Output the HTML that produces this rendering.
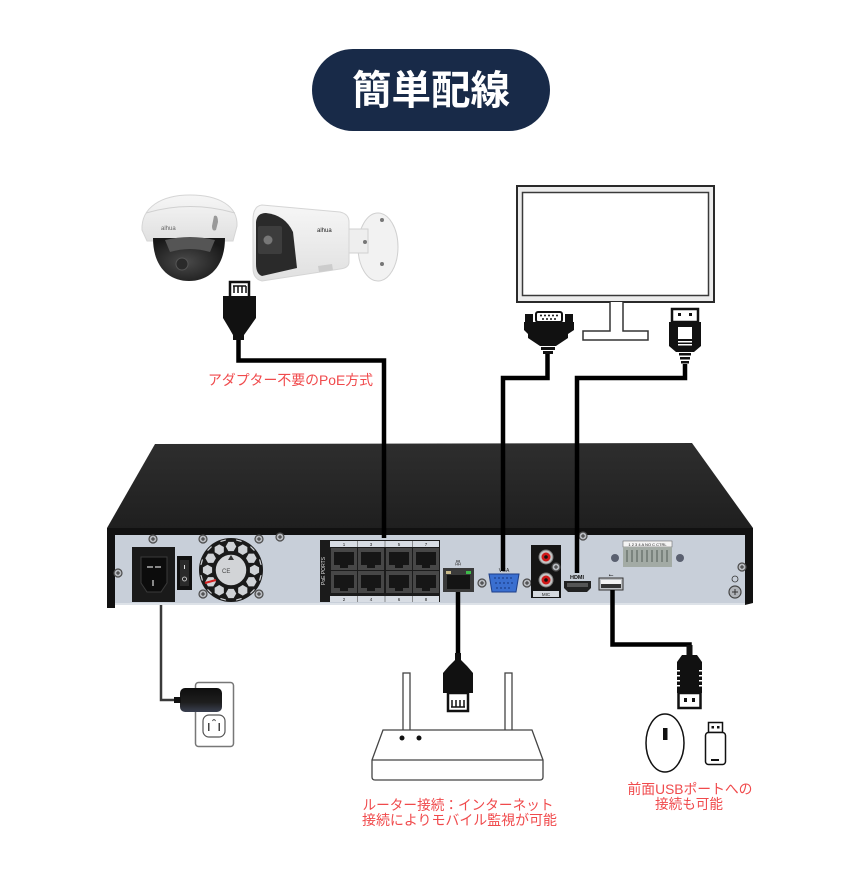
<!DOCTYPE html>
<html><head><meta charset="utf-8">
<style>
html,body{margin:0;padding:0;background:#fff;}
svg{display:block;}
text{font-family:"Liberation Sans","Noto Sans CJK JP",sans-serif;}
</style></head><body>
<svg width="860" height="896" viewBox="0 0 860 896" xmlns="http://www.w3.org/2000/svg">
<defs>
 <linearGradient id="top" x1="0" y1="0" x2="0" y2="1"><stop offset="0" stop-color="#2e2e2e"/><stop offset="1" stop-color="#1f1f1f"/></linearGradient>
 <linearGradient id="capg" x1="0" y1="0" x2="0" y2="1"><stop offset="0" stop-color="#f6f6f6"/><stop offset="1" stop-color="#e0e0e0"/></linearGradient>
 <radialGradient id="domeg" cx="0.45" cy="0.55" r="0.6"><stop offset="0" stop-color="#4a4a4a"/><stop offset="1" stop-color="#181818"/></radialGradient>
 <linearGradient id="adg" x1="0" y1="0" x2="0" y2="1"><stop offset="0" stop-color="#0e0e0e"/><stop offset="0.6" stop-color="#1e1e1e"/><stop offset="1" stop-color="#3a4050"/></linearGradient>
 <clipPath id="fanclip"><circle cx="231" cy="570" r="31"/></clipPath>
 <polygon id="hex" points="5.3,-23.5 2.65,-18.9 -2.65,-18.9 -5.3,-23.5 -2.65,-28.1 2.65,-28.1" fill="#cfd2d6"/>
 <polygon id="hex2" points="5,-34 2.5,-29.7 -2.5,-29.7 -5,-34 -2.5,-38.3 2.5,-38.3" fill="#cfd2d6"/>
 <g id="screw"><circle r="4" fill="#b8bbc0" stroke="#4a4a4a" stroke-width="1.2"/><path d="M-2,0H2M0,-2V2" stroke="#333" stroke-width="1"/></g>
 <g id="port"><rect width="26" height="22" fill="#474747"/><rect x="3" y="4" width="20" height="13" fill="#161616"/><rect x="9" y="17" width="8" height="3" fill="#161616"/></g>
</defs>

<!-- Title -->
<rect x="312" y="49" width="238" height="82" rx="41" fill="#182a48"/>
<text x="431" y="104" font-size="40" font-weight="700" fill="#fff" text-anchor="middle" textLength="158" lengthAdjust="spacingAndGlyphs">簡単配線</text>

<!-- Dome camera -->
<path d="M142,230 C141,207 162,195 190,195 C219,195 238,206 237,226 L233,241 L147,241 Z" fill="url(#capg)" stroke="#d5d5d5" stroke-width="1"/>
<path d="M146,213 Q190,200 235,213" stroke="#d0d0d0" fill="none"/>
<path d="M153,238 C153,266 168,281 189,281 C210,281 225,266 225,238 Z" fill="url(#domeg)"/>
<path d="M165,240 Q190,234 215,240 L210,252 Q190,246 170,252 Z" fill="#555"/>
<circle cx="182" cy="264" r="6" fill="#2a2a2a" stroke="#555"/>
<path d="M214,216 Q218,214 218,222 L216,230 Q212,232 212,226 Z" fill="#999"/>
<text x="161" y="230" font-size="6" fill="#666">alhua</text>

<!-- Bullet camera -->
<ellipse cx="378" cy="247" rx="20" ry="34" fill="#f2f2f2" stroke="#d0d0d0"/>
<circle cx="382" cy="220" r="2" fill="#777"/>
<circle cx="382" cy="264" r="2" fill="#777"/>
<rect x="346" y="229" width="22" height="24" fill="#eeeeee" stroke="#d0d0d0"/>
<circle cx="365" cy="242" r="2" fill="#777"/>
<path d="M262,205 L340,212 Q349,214 349,222 V262 Q349,268 340,269 L262,281 Q253,279 253,268 V220 Q253,206 262,205 Z" fill="url(#capg)" stroke="#d5d5d5"/>
<path d="M256,222 Q257,213 266,213 Q285,215 293,232 L297,268 L262,276 Q256,274 256,264 Z" fill="#2a2a2a"/>
<rect x="258" y="226" width="24" height="28" rx="2" fill="#3d3d3d"/>
<circle cx="268" cy="240" r="4.5" fill="#777"/>
<text x="317" y="232" font-size="6" fill="#222">alhua</text>
<path d="M318,266 L332,264 L333,270 L319,272 Z" fill="#ccc"/>

<!-- Camera RJ45 plug -->
<rect x="230" y="282" width="19" height="16" fill="#fff" stroke="#111" stroke-width="2.5"/>
<path d="M233,286 H246 M234,286 V293 M238,286 V293 M242,286 V293 M246,286 V293" stroke="#111" stroke-width="1.5"/>
<path d="M223,296 H256 V318 L249,328 L244,335 V340 H233 V335 L229,328 L223,318 Z" fill="#111"/>

<!-- Monitor -->
<rect x="517" y="186" width="197" height="116" fill="#ececec" stroke="#2a2a2a" stroke-width="2"/>
<rect x="522.5" y="192.5" width="186" height="103" fill="#fff" stroke="#3a3a3a" stroke-width="1.5"/>
<path d="M610,302 V331 H583 V340 H648 V331 H623 V302" fill="#fff" stroke="#333" stroke-width="1.5"/>

<!-- VGA connector -->
<rect x="525" y="314" width="8" height="9" fill="#111"/>
<rect x="565" y="314" width="8" height="9" fill="#111"/>
<rect x="536" y="312" width="26" height="10" rx="2" fill="#fff" stroke="#111" stroke-width="2"/>
<g fill="#111"><circle cx="541" cy="315.5" r="1"/><circle cx="545" cy="315.5" r="1"/><circle cx="549" cy="315.5" r="1"/><circle cx="553" cy="315.5" r="1"/><circle cx="557" cy="315.5" r="1"/><circle cx="543" cy="319" r="1"/><circle cx="547" cy="319" r="1"/><circle cx="551" cy="319" r="1"/><circle cx="555" cy="319" r="1"/></g>
<path d="M524,322 H574 V330 L568,334 V338 L556,346 H540 L528,338 V334 L524,330 Z" fill="#111"/>
<rect x="541" y="347" width="14" height="3" fill="#111"/>
<rect x="543" y="351" width="10" height="3" fill="#111"/>

<!-- HDMI connector -->
<rect x="672" y="309" width="26" height="13" fill="#fff" stroke="#111" stroke-width="2.5"/>
<rect x="678" y="313" width="3" height="3" fill="#111"/>
<rect x="689" y="313" width="3" height="3" fill="#111"/>
<path d="M669,322 H701 V346 L694,352 H676 L669,346 Z" fill="#111"/>
<rect x="678" y="327" width="14" height="12" fill="#fff"/>
<rect x="678" y="341" width="14" height="1.5" fill="#fff"/>
<rect x="678" y="344" width="14" height="1.5" fill="#fff"/>
<rect x="679" y="353" width="12" height="2.5" fill="#111"/>
<rect x="680" y="357" width="10" height="2.5" fill="#111"/>
<rect x="681" y="361" width="8" height="2.5" fill="#111"/>

<!-- NVR -->
<path d="M155,444 L692,443 L753,528 L107,528 Z" fill="url(#top)"/>
<path d="M107,528 H753 V603 L745,605 H115 V608 H107 Z" fill="#111"/>
<rect x="115" y="535" width="630" height="70" fill="#c8cfd9"/>
<rect x="115" y="603" width="630" height="2" fill="#dde2e8"/>

<!-- power inlet & switch -->
<rect x="132" y="547" width="43" height="55" fill="#1a1a1a"/>
<path d="M141,557 H167 V583 L161,592 H147 L141,583 Z" fill="#0c0c0c" stroke="#3a3a3a"/>
<rect x="147" y="566" width="6" height="2" fill="#888"/>
<rect x="155" y="566" width="6" height="2" fill="#888"/>
<rect x="152" y="580" width="2" height="6" fill="#888"/>
<rect x="177" y="556" width="15" height="34" fill="#111"/>
<rect x="180" y="560" width="9" height="26" fill="#2a2a2a"/>
<rect x="184" y="565" width="1" height="4" fill="#ddd"/>
<circle cx="184.5" cy="579" r="2" fill="none" stroke="#ddd" stroke-width="0.8"/>

<!-- fan -->
<circle cx="231" cy="570" r="32" fill="#1a1a1a"/>
<g clip-path="url(#fanclip)">
 <use href="#hex" transform="translate(231,570) rotate(0)"/>
 <use href="#hex" transform="translate(231,570) rotate(30)"/>
 <use href="#hex" transform="translate(231,570) rotate(60)"/>
 <use href="#hex" transform="translate(231,570) rotate(90)"/>
 <use href="#hex" transform="translate(231,570) rotate(120)"/>
 <use href="#hex" transform="translate(231,570) rotate(150)"/>
 <use href="#hex" transform="translate(231,570) rotate(180)"/>
 <use href="#hex" transform="translate(231,570) rotate(210)"/>
 <use href="#hex" transform="translate(231,570) rotate(240)"/>
 <use href="#hex" transform="translate(231,570) rotate(270)"/>
 <use href="#hex" transform="translate(231,570) rotate(300)"/>
 <use href="#hex" transform="translate(231,570) rotate(330)"/>
 <use href="#hex2" transform="translate(231,570) rotate(15)"/>
 <use href="#hex2" transform="translate(231,570) rotate(45)"/>
 <use href="#hex2" transform="translate(231,570) rotate(75)"/>
 <use href="#hex2" transform="translate(231,570) rotate(105)"/>
 <use href="#hex2" transform="translate(231,570) rotate(135)"/>
 <use href="#hex2" transform="translate(231,570) rotate(165)"/>
 <use href="#hex2" transform="translate(231,570) rotate(195)"/>
 <use href="#hex2" transform="translate(231,570) rotate(225)"/>
 <use href="#hex2" transform="translate(231,570) rotate(255)"/>
 <use href="#hex2" transform="translate(231,570) rotate(285)"/>
 <use href="#hex2" transform="translate(231,570) rotate(315)"/>
 <use href="#hex2" transform="translate(231,570) rotate(345)"/>
</g>
<circle cx="231" cy="570" r="16" fill="#d2d4d7" stroke="#1a1a1a" stroke-width="1.5"/>
<path d="M228,560 L234,560 L231,555 Z" fill="#333"/>
<text x="222" y="573" font-size="6" fill="#444">CE</text>
<line x1="205" y1="583" x2="216" y2="580" stroke="#d32020" stroke-width="2"/>

<!-- screws -->
<use href="#screw" x="118" y="573"/>
<use href="#screw" x="153" y="539"/>
<use href="#screw" x="203" y="539"/>
<use href="#screw" x="259" y="539"/>
<use href="#screw" x="280" y="537"/>
<use href="#screw" x="203" y="594"/>
<use href="#screw" x="259" y="594"/>
<use href="#screw" x="482" y="583"/>
<use href="#screw" x="527" y="583"/>
<use href="#screw" x="583" y="536"/>
<use href="#screw" x="742" y="567"/>
<circle cx="615" cy="558" r="4" fill="#5a6070"/>
<circle cx="680" cy="558" r="4" fill="#5a6070"/>
<circle cx="735" cy="592" r="6" fill="#b0b3b8" stroke="#444" stroke-width="1.2"/>
<path d="M732,592H738M735,589V595" stroke="#333" stroke-width="1"/>
<circle cx="735" cy="579" r="3" fill="none" stroke="#333" stroke-width="0.8"/>

<!-- PoE ports -->
<rect x="320" y="540" width="120" height="62" fill="#1b1b1b"/>
<text x="325" y="571" font-size="5" fill="#ddd" text-anchor="middle" transform="rotate(-90 325 571)">PoE PORTS</text>
<rect x="330" y="541" width="109" height="6" fill="#d8dde4"/>
<rect x="330" y="596" width="109" height="6" fill="#d8dde4"/>
<g stroke="#555" stroke-width="0.6"><line x1="357.5" y1="541" x2="357.5" y2="547"/><line x1="385" y1="541" x2="385" y2="547"/><line x1="412.5" y1="541" x2="412.5" y2="547"/><line x1="357.5" y1="596" x2="357.5" y2="602"/><line x1="385" y1="596" x2="385" y2="602"/><line x1="412.5" y1="596" x2="412.5" y2="602"/></g>
<g font-size="4.5" fill="#222" text-anchor="middle"><text x="344" y="546">1</text><text x="371" y="546">3</text><text x="399" y="546">5</text><text x="426" y="546">7</text><text x="344" y="601">2</text><text x="371" y="601">4</text><text x="399" y="601">6</text><text x="426" y="601">8</text></g>
<use href="#port" x="331" y="548"/><use href="#port" x="358" y="548"/><use href="#port" x="386" y="548"/><use href="#port" x="413" y="548"/>
<use href="#port" x="331" y="571"/><use href="#port" x="358" y="571"/><use href="#port" x="386" y="571"/><use href="#port" x="413" y="571"/>

<!-- LAN -->
<text x="458" y="565" font-size="6" fill="#333" text-anchor="middle">品</text>
<rect x="443" y="568" width="31" height="24" fill="#3a3a3a"/>
<rect x="447" y="575" width="23" height="14" fill="#141414"/>
<rect x="446" y="571" width="5" height="3" fill="#c9b98a"/>
<rect x="466" y="571" width="5" height="3" fill="#3dbb4a"/>

<!-- VGA port -->
<text x="504" y="572" font-size="5" fill="#222" text-anchor="middle">VGA</text>
<path d="M489,574 H519 L516,592 H492 Z" fill="#3a6fd0" stroke="#1d3e88" stroke-width="1"/>
<g fill="#1d3e88"><circle cx="495" cy="578" r="0.9"/><circle cx="499" cy="578" r="0.9"/><circle cx="503" cy="578" r="0.9"/><circle cx="507" cy="578" r="0.9"/><circle cx="511" cy="578" r="0.9"/><circle cx="496" cy="583" r="0.9"/><circle cx="500" cy="583" r="0.9"/><circle cx="504" cy="583" r="0.9"/><circle cx="508" cy="583" r="0.9"/><circle cx="512" cy="583" r="0.9"/><circle cx="497" cy="588" r="0.9"/><circle cx="501" cy="588" r="0.9"/><circle cx="505" cy="588" r="0.9"/><circle cx="509" cy="588" r="0.9"/></g>

<!-- Audio -->
<rect x="531" y="545" width="30" height="53" fill="#151515"/>
<circle cx="546" cy="557" r="7" fill="#c4c4c4" stroke="#777"/>
<circle cx="546" cy="557" r="4.5" fill="#d01818"/>
<circle cx="546" cy="557" r="1.8" fill="#111"/>
<circle cx="546" cy="580" r="7" fill="#c4c4c4" stroke="#777"/>
<circle cx="546" cy="580" r="4.5" fill="#d01818"/>
<circle cx="546" cy="580" r="1.8" fill="#111"/>
<rect x="533" y="591" width="26" height="6" fill="#d5d9de"/>
<text x="546" y="596" font-size="4.5" fill="#222" text-anchor="middle">MIC</text>
<use href="#screw" x="556" y="567" transform="scale(1)"/>

<!-- HDMI port -->
<text x="577" y="579" font-size="5.5" font-weight="700" fill="#111" text-anchor="middle">HDMI</text>
<path d="M564,581 H591 V588 L587,592 H568 L564,588 Z" fill="#222"/>
<rect x="567" y="583" width="21" height="4" fill="#555"/>

<!-- USB port -->
<text x="611" y="577" font-size="6" fill="#222" text-anchor="middle">⭠</text>
<rect x="599" y="578" width="24" height="12" fill="#bfc2c6" stroke="#333" stroke-width="1"/>
<rect x="601" y="580" width="20" height="4" fill="#f3f3f3"/>
<rect x="601" y="584" width="20" height="4" fill="#333"/>

<!-- terminal -->
<rect x="623" y="541" width="49" height="6" fill="#f4f4f4" stroke="#555" stroke-width="0.5"/>
<text x="647.5" y="546" font-size="4" fill="#222" text-anchor="middle">1 2 3 4 A NO C CTRL</text>
<rect x="623" y="547" width="49" height="20" fill="#a3aba5"/>
<g fill="#7b847e"><rect x="626" y="550" width="2" height="12"/><rect x="631" y="550" width="2" height="12"/><rect x="636" y="550" width="2" height="12"/><rect x="641" y="550" width="2" height="12"/><rect x="646" y="550" width="2" height="12"/><rect x="651" y="550" width="2" height="12"/><rect x="656" y="550" width="2" height="12"/><rect x="661" y="550" width="2" height="12"/><rect x="666" y="550" width="2" height="12"/></g>

<!-- Cables -->
<g fill="none" stroke="#000" stroke-width="4.5" stroke-linejoin="miter">
 <path d="M238.5,340 V360.5 H384 V538"/>
 <path d="M547.5,354 V378 H503 V571"/>
 <path d="M685,364 V378 H577 V573"/>
 <path d="M458,592 V655"/>
 <path d="M612.5,590 V644.5 H689.5 V647"/>
</g>
<path d="M161,605 V700 H176" fill="none" stroke="#3a3a3a" stroke-width="2.5"/>

<!-- Router plug -->
<path d="M455,653 H461 V660 L467,666 L473,673 V693 H443 V673 L449,666 L455,660 Z" fill="#111"/>
<rect x="448" y="693" width="20" height="18" fill="#fff" stroke="#111" stroke-width="2.5"/>
<path d="M451,707 H465 M452,700 V707 M456,700 V707 M460,700 V707 M464,700 V707" stroke="#111" stroke-width="1.5"/>

<!-- Router -->
<rect x="403" y="673" width="7" height="58" fill="#fff" stroke="#444" stroke-width="1.3"/>
<rect x="505" y="673" width="7" height="58" fill="#fff" stroke="#444" stroke-width="1.3"/>
<path d="M383,730 H532 L543,760 V777 Q543,780 540,780 H375 Q372,780 372,777 V760 Z" fill="#fff" stroke="#444" stroke-width="1.3"/>
<line x1="372" y1="760" x2="543" y2="760" stroke="#444" stroke-width="1.3"/>
<circle cx="402" cy="738" r="2.5" fill="#111"/>
<circle cx="419" cy="738" r="2.5" fill="#111"/>

<!-- USB plug -->
<rect x="686.5" y="645" width="6" height="12" fill="#111"/>
<path d="M682,655 H697 L702,662 V693 H677 V662 Z" fill="#111"/>
<g fill="#fff"><rect x="677" y="670" width="3" height="1.5"/><rect x="677" y="675" width="3" height="1.5"/><rect x="677" y="680" width="3" height="1.5"/><rect x="677" y="685" width="3" height="1.5"/><rect x="699" y="670" width="3" height="1.5"/><rect x="699" y="675" width="3" height="1.5"/><rect x="699" y="680" width="3" height="1.5"/><rect x="699" y="685" width="3" height="1.5"/></g>
<rect x="678.5" y="693" width="22" height="15" fill="#fff" stroke="#111" stroke-width="2.5"/>
<rect x="684" y="698" width="3" height="4" fill="#111"/>
<rect x="692" y="698" width="3" height="4" fill="#111"/>

<!-- Mouse & USB drive -->
<ellipse cx="665" cy="743" rx="19" ry="29" fill="#fff" stroke="#111" stroke-width="1.5"/>
<rect x="663" y="728" width="4.5" height="12" fill="#111"/>
<rect x="708.5" y="722.5" width="14" height="10" fill="#fff" stroke="#111" stroke-width="1.5"/>
<rect x="711.5" y="726" width="2.5" height="2.5" fill="#111"/>
<rect x="717" y="726" width="2.5" height="2.5" fill="#111"/>
<rect x="705.5" y="732.5" width="20" height="32" rx="3" fill="#fff" stroke="#111" stroke-width="1.5"/>
<rect x="711" y="759" width="8" height="2" fill="#111"/>

<!-- Power outlet -->
<rect x="195.5" y="682.5" width="38" height="64" rx="3" fill="#fff" stroke="#777" stroke-width="1.5"/>
<rect x="203" y="715" width="22" height="22" rx="6" fill="#fff" stroke="#555" stroke-width="1.2"/>
<rect x="208" y="723" width="1.5" height="8" fill="#444"/>
<rect x="218.5" y="723" width="1.5" height="8" fill="#444"/>
<path d="M212.5,721 Q214,718 215.5,721" fill="none" stroke="#444" stroke-width="1"/>
<rect x="180" y="688" width="42" height="24" rx="5" fill="url(#adg)"/>
<rect x="174" y="697" width="7" height="6" fill="#111"/>

<!-- Labels -->
<text x="290.5" y="385" font-size="14" fill="#f04a4c" text-anchor="middle" textLength="165" lengthAdjust="spacingAndGlyphs">アダプター不要のPoE方式</text>
<text x="458" y="810" font-size="14" fill="#f04a4c" text-anchor="middle" textLength="191" lengthAdjust="spacingAndGlyphs">ルーター接続：インターネット</text>
<text x="459.5" y="825" font-size="14" fill="#f04a4c" text-anchor="middle" textLength="195" lengthAdjust="spacingAndGlyphs">接続によりモバイル監視が可能</text>
<text x="690" y="794" font-size="14" fill="#f04a4c" text-anchor="middle" textLength="125" lengthAdjust="spacingAndGlyphs">前面USBポートへの</text>
<text x="689" y="809" font-size="14" fill="#f04a4c" text-anchor="middle" textLength="68" lengthAdjust="spacingAndGlyphs">接続も可能</text>
</svg>
</body></html>
